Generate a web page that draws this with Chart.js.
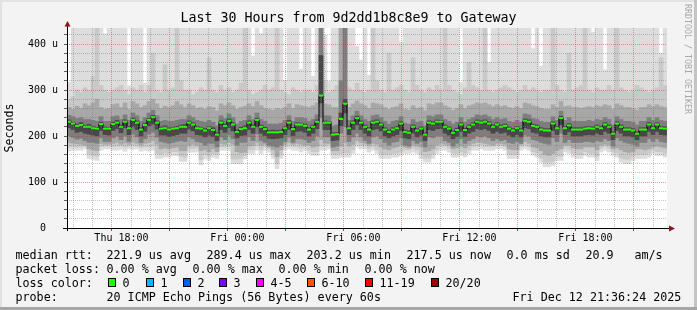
<!DOCTYPE html>
<html>
<head>
<meta charset="utf-8">
<script src="https://cdn.jsdelivr.net/npm/chart.js@4.4.1/dist/chart.umd.min.js"></script>
<style>
  html, body { margin: 0; padding: 0; background: #fff; }
  #frame {
    position: relative; width: 697px; height: 310px; overflow: hidden;
    background: #f3f3f3;
    box-shadow: inset 0 -3px 0 #a6a6a6, inset -3px 0 0 #c4c4c4, inset 2px 2px 0 #e2e2e2;
    font-family: 'DejaVu Sans Mono', monospace;
  }
  #chart { position: absolute; left: 0; top: 0; width: 697px; height: 310px; }
  .txt { position: absolute; font-size: 11.7px; line-height: 14px; white-space: pre; color: #000; }
  .box { position: absolute; width: 6px; height: 7px; border: 1px solid #000; }
  #credit {
    position: absolute; left: 683px; top: 4px; writing-mode: vertical-rl;
    font-size: 8.3px; line-height: 10px; color: #a8a8a8; white-space: pre;
  }
</style>
</head>
<body>
<div id="frame">
  <canvas id="chart" width="697" height="310"></canvas>
  <div id="credit">RRDTOOL / TOBI OETIKER</div>
  <div id="legend"></div>
</div>
<script>
// 150 steps of 12 minutes, Thu 15:42 -> Fri 21:42 (values in microseconds)
const median = [
  231,227,222,224,220,220,217,216,226,216,
  216,226,229,220,231,217,235,229,214,224,
  235,241,229,216,217,214,216,217,220,220,
  229,225,217,216,212,217,213,203,229,222,
  233,225,209,215,217,229,220,235,220,215,
  208,208,208,209,217,229,215,225,225,222,
  214,220,231,288,229,229,203,204,237,270,
  217,229,239,229,220,214,229,231,225,214,
  209,214,217,227,209,207,220,212,216,203,
  229,227,231,231,220,216,207,213,225,213,
  220,225,231,229,231,227,220,225,220,222,
  216,212,217,212,233,231,222,220,214,212,
  212,227,217,239,217,223,214,214,214,216,
  217,216,220,217,225,220,205,227,220,214,
  214,212,205,214,214,225,217,225,217,216
];
// smoke: outer ping (max/min) and inner ping pairs
const maxPing = [
  317,440,440,440,440,440,440,440,440,422,
  440,440,440,440,440,309,440,440,440,315,
  440,440,440,440,440,440,440,440,440,440,
  440,440,440,440,440,440,440,440,440,440,
  440,440,440,440,440,440,374,440,423,440,
  440,440,440,440,321,440,440,440,345,440,
  440,330,440,440,419,319,440,440,440,440,
  440,440,395,365,440,332,440,440,440,440,
  440,440,440,404,440,440,440,440,440,440,
  440,440,440,440,440,440,440,440,316,440,
  440,440,440,440,440,360,440,440,440,440,
  440,440,440,440,440,440,390,440,352,440,
  440,440,440,440,440,440,440,440,440,440,
  440,426,440,440,344,440,440,440,440,440,
  440,440,440,440,440,440,440,440,380,440
];
const hi2 = [
  280,285,300,295,305,300,330,440,310,300,
  295,300,305,310,300,290,305,300,310,295,
  310,380,300,295,355,300,305,440,320,300,
  300,290,295,305,300,370,300,295,310,300,
  305,295,300,315,440,300,290,295,300,310,
  300,305,440,300,295,290,305,300,295,300,
  300,295,310,440,320,295,300,310,440,440,
  305,300,315,300,295,300,440,320,300,295,
  380,300,305,310,300,295,370,310,300,295,
  305,300,310,300,440,310,300,295,290,305,
  360,310,305,300,440,300,295,300,305,310,
  305,300,295,300,310,300,305,300,295,300,
  300,440,310,300,295,380,300,305,310,440,
  300,295,305,300,300,310,300,440,305,300,
  295,300,310,305,300,295,300,305,370,310
];
const hi3 = [
  262,258,265,260,270,266,272,280,262,258,
  260,268,270,262,272,258,275,270,262,266,
  275,280,270,260,265,262,266,275,268,262,
  270,266,260,262,258,264,262,255,270,266,
  272,266,258,262,265,270,264,275,266,260,
  258,256,260,258,262,270,260,268,266,264,
  262,266,272,440,270,268,262,262,440,440,
  262,270,276,270,266,260,272,270,268,262,
  258,262,264,270,258,256,266,260,262,255,
  270,268,272,272,266,262,256,260,268,260,
  266,268,272,270,272,268,264,268,264,266,
  262,260,264,260,272,270,266,264,260,258,
  258,268,262,275,264,266,262,262,260,262,
  264,262,266,264,268,266,258,270,266,262,
  262,260,256,262,262,268,264,268,264,262
];
const hi4 = [
  245,242,238,240,236,236,234,232,242,232,
  232,242,244,236,246,234,250,244,232,240,
  250,256,244,232,234,232,232,234,236,236,
  244,240,234,232,230,234,230,222,244,238,
  248,240,226,232,234,244,236,250,236,232,
  226,226,226,228,234,244,232,240,240,238,
  232,236,246,440,244,244,222,224,320,440,
  234,244,254,244,236,232,244,246,240,232,
  226,232,234,242,228,226,236,230,232,222,
  244,242,246,246,236,232,226,230,240,230,
  236,240,246,244,246,242,236,240,236,238,
  232,230,234,230,248,246,238,236,232,230,
  230,242,234,254,234,240,232,232,232,232,
  234,232,236,234,240,236,224,242,236,232,
  232,230,224,232,232,240,234,240,234,232
];
const hi5 = [
  235,230,226,229,223,225,221,219,230,220,
  219,230,234,224,235,221,239,233,218,228,
  238,245,233,220,222,218,219,221,224,225,
  233,229,221,219,216,221,218,207,233,226,
  237,229,213,219,222,233,224,239,224,219,
  212,213,212,213,221,234,219,229,228,226,
  218,224,235,375,233,232,207,208,250,280,
  221,233,243,233,224,218,233,235,229,218,
  213,218,221,231,213,211,224,216,220,207,
  233,231,235,234,224,220,211,217,229,217,
  224,229,235,233,235,231,224,229,224,226,
  220,216,221,216,237,235,226,224,218,216,
  216,231,221,243,221,227,218,218,218,220,
  221,220,224,221,229,224,209,231,224,218,
  218,216,209,218,218,229,221,229,221,220
];
const lo5 = [
  218,214,208,210,206,204,202,200,212,203,
  202,212,216,207,218,203,220,214,200,210,
  222,226,215,202,202,199,201,203,206,206,
  215,211,203,202,198,202,199,190,214,208,
  218,211,196,201,202,214,206,220,206,201,
  195,194,195,196,203,214,201,210,211,208,
  200,206,216,272,214,214,190,191,222,250,
  203,214,224,214,206,200,214,216,211,200,
  196,200,203,212,196,194,206,198,202,190,
  214,212,216,216,206,202,194,199,210,199,
  206,210,216,214,216,212,206,210,206,208,
  202,198,203,198,218,216,208,206,200,198,
  198,212,203,224,203,209,200,200,200,202,
  203,202,206,203,210,206,192,212,206,200,
  200,198,192,200,200,210,203,210,203,202
];
const lo4 = [
  200,197,193,195,190,186,186,184,196,188,
  188,196,200,192,200,188,204,198,186,194,
  204,208,198,188,186,184,186,188,190,188,
  198,194,188,186,180,184,184,176,198,192,
  202,194,180,186,186,198,190,204,190,186,
  180,178,176,180,188,198,186,194,194,192,
  186,190,200,240,198,198,176,178,206,220,
  188,198,206,198,190,184,198,200,194,186,
  180,186,188,196,180,178,190,184,188,176,
  198,196,200,200,190,186,178,184,194,184,
  190,194,200,198,200,196,190,194,190,192,
  186,184,188,184,202,200,192,190,186,184,
  182,196,188,206,186,192,186,186,186,188,
  188,186,190,188,194,190,178,196,190,186,
  184,182,178,186,186,194,188,194,188,186
];
const lo3 = [
  186,184,183,182,180,172,170,168,184,182,
  182,184,186,182,185,182,186,184,180,184,
  186,190,182,172,174,172,174,176,168,168,
  180,182,180,168,170,166,172,166,184,182,
  186,182,166,164,165,178,180,186,180,182,
  176,170,155,170,182,186,182,184,182,180,
  180,176,178,192,184,184,168,168,178,185,
  178,182,190,186,184,180,184,182,176,172,
  170,174,176,180,176,174,180,178,176,166,
  168,172,180,184,182,180,172,174,178,174,
  180,184,186,186,184,182,180,184,184,182,
  172,170,170,182,188,184,176,174,168,160,
  158,162,168,172,180,180,174,172,172,176,
  176,176,170,180,182,180,172,174,170,166,
  164,166,172,172,170,172,176,178,176,174
];
const lo2 = [
  176,177,176,177,178,160,158,156,177,178,
  178,177,178,178,176,178,179,178,175,177,
  176,178,162,160,164,162,166,166,156,154,
  174,173,174,148,160,156,162,160,177,176,
  177,150,150,152,158,170,170,178,170,177,
  173,160,140,160,177,179,177,177,174,177,
  170,166,166,178,178,180,160,160,162,163,
  163,170,182,179,179,173,177,170,160,160,
  160,162,163,166,170,170,173,170,160,152,
  152,160,170,177,178,173,163,162,166,163,
  170,177,178,180,177,177,178,180,179,177,
  160,160,160,177,180,177,166,163,152,143,
  143,145,156,156,173,170,163,160,160,166,
  163,162,156,173,177,173,166,163,152,150,
  150,156,160,160,160,163,170,166,166,163
];
const minPing = [
  167,169,169,169,172,151,149,147,169,172,
  172,169,169,171,167,172,171,172,167,169,
  167,169,151,151,154,154,158,158,145,145,
  165,165,165,137,150,147,154,151,169,169,
  169,140,140,140,150,162,162,169,162,169,
  165,151,129,151,169,172,169,169,165,169,
  162,158,158,169,169,172,151,151,154,154,
  154,162,176,172,172,165,169,162,151,151,
  151,154,154,158,162,162,165,162,151,143,
  143,151,162,169,169,165,154,154,158,154,
  162,169,169,172,169,169,169,172,172,169,
  151,151,151,169,172,169,158,154,143,133,
  133,136,147,147,165,162,154,151,151,158,
  154,154,147,165,169,165,158,154,143,140,
  140,147,151,151,151,154,162,158,158,154
];

// time axis, in hours since Thu 00:00
const startHour = 15.7;
const gridHours = [16,17,18,19,20,21,22,23,24,25,26,27,28,29,30,31,32,33,34,35,36,37,38,39,40,41,42,43,44,45];
const tickHours = [18, 24, 30, 36, 42];
const tickLabels = ['Thu 18:00', 'Fri 00:00', 'Fri 06:00', 'Fri 12:00', 'Fri 18:00'];

const yGrid = [0,20,40,60,80,100,120,140,160,180,200,220,240,260,280,300,320,340,360,380,400,420];
const yTickValues = [0, 100, 200, 300, 400];
const yTickLabels = ['0  ', '100 u', '200 u', '300 u', '400 u'];

const lossLabels = ['0', '1', '2', '3', '4-5', '6-10', '11-19', '20/20'];
const lossColors = ['#26ff00', '#00b8ff', '#0059ff', '#7e00ff', '#ff00ff', '#ff5500', '#ff0000', '#a10000'];

// smoke shades, outermost first
const bandColors = ['#dddddd', '#c9c9c9', '#a8a8a8', '#7e7e7e', '#484848'];
const gridGrey = 'rgba(120,120,120,0.45)';
const gridRed = 'rgba(210,40,40,0.45)';
const mono = "'DejaVu Sans Mono', monospace";

const bands = [[minPing, maxPing], [lo2, hi2], [lo3, hi3], [lo4, hi4], [lo5, hi5]];
const bandSets = bands.map(([lo, hi], k) => ({
  type: 'bar',
  data: lo.map((v, i) => [v, hi[i]]),
  backgroundColor: bandColors[k],
  borderWidth: 0,
  barPercentage: 1,
  categoryPercentage: 1,
  grouped: false,
  order: 10 - k
}));

const plotFrame = {
  id: 'plotFrame',
  beforeDraw(chart) {
    const { ctx, chartArea: a } = chart;
    ctx.save();
    ctx.fillStyle = '#fff';
    ctx.fillRect(a.left, a.top, a.right - a.left, a.bottom - a.top);
    ctx.restore();
  },
  afterDraw(chart) {
    const { ctx, chartArea: a } = chart;
    ctx.save();
    ctx.strokeStyle = '#000';
    ctx.lineWidth = 1;
    ctx.beginPath();
    ctx.moveTo(a.left - 4, a.bottom + 0.5);
    ctx.lineTo(a.right + 3, a.bottom + 0.5);
    ctx.moveTo(a.left + 0.5, a.bottom + 3);
    ctx.lineTo(a.left + 0.5, a.top - 3);
    ctx.stroke();
    ctx.fillStyle = '#8c1515';
    ctx.beginPath();
    ctx.moveTo(a.right + 8, a.bottom + 0.5);
    ctx.lineTo(a.right + 2, a.bottom - 2.5);
    ctx.lineTo(a.right + 2, a.bottom + 3.5);
    ctx.fill();
    ctx.beginPath();
    ctx.moveTo(a.left + 0.5, a.top - 7);
    ctx.lineTo(a.left - 2.5, a.top - 1.5);
    ctx.lineTo(a.left + 3.5, a.top - 1.5);
    ctx.fill();
    ctx.restore();
  }
};

Chart.defaults.color = '#000';
Chart.defaults.font.family = mono;

new Chart(document.getElementById('chart'), {
  type: 'bar',
  data: {
    labels: median.map((v, i) => i),
    datasets: [{
      type: 'line',
      data: median,
      borderColor: '#000',
      borderWidth: 1,
      stepped: 'middle',
      pointStyle: 'line',
      pointRadius: 2,
      pointHoverRadius: 2,
      pointBorderWidth: 2,
      pointBorderColor: '#26ff00',
      order: 0
    }, ...bandSets]
  },
  options: {
    responsive: false,
    devicePixelRatio: 1,
    animation: false,
    events: [],
    layout: { padding: 0 },
    plugins: {
      legend: { display: false },
      tooltip: { enabled: false },
      title: {
        display: true,
        text: 'Last 30 Hours from 9d2dd1b8c8e9 to Gateway',
        color: '#000',
        font: { family: mono, size: 13.3, weight: 'normal', lineHeight: 1 },
        padding: { top: 11.5, bottom: 3.2 }
      }
    },
    scales: {
      x: { type: 'category', display: false, offset: true },
      xt: {
        type: 'linear', position: 'bottom', min: startHour, max: startHour + 30,
        afterBuildTicks: s => { s.ticks = gridHours.map(v => ({ value: v })); },
        afterFit: s => { s.height = 82; },
        ticks: {
          autoSkip: false, maxRotation: 0, padding: 1,
          font: { family: mono, size: 10 },
          callback: v => { const k = tickHours.indexOf(v); return k < 0 ? '' : tickLabels[k]; }
        },
        grid: {
          z: 1, lineWidth: 1, tickLength: 3,
          color: c => (c.tick && c.tick.value % 3 === 0) ? gridRed : gridGrey,
          tickColor: c => (c.tick && c.tick.value % 3 === 0) ? '#b04040' : 'rgba(0,0,0,0)'
        },
        border: { display: false, dash: [1, 1] }
      },
      y: {
        type: 'linear', position: 'left', min: 0, max: 434.8,
        afterBuildTicks: s => { s.ticks = yGrid.map(v => ({ value: v })); },
        afterFit: s => { s.width = 67; },
        ticks: {
          autoSkip: false, padding: 6,
          font: { family: mono, size: 10 },
          callback: v => { const k = yTickValues.indexOf(v); return k < 0 ? '' : yTickLabels[k]; }
        },
        grid: {
          z: 1, lineWidth: 1, tickLength: 3,
          color: c => (c.tick && c.tick.value % 100 === 0) ? gridRed : gridGrey,
          tickColor: '#606060'
        },
        border: { display: false, dash: [1, 1] },
        title: {
          display: true, text: 'Seconds', color: '#000',
          font: { family: mono, size: 11.6 }, padding: { top: 3, bottom: 0 }
        }
      },
      yr: {
        type: 'linear', position: 'right', display: true,
        afterFit: s => { s.width = 30; },
        ticks: { display: false },
        grid: { display: false },
        border: { display: false }
      }
    }
  },
  plugins: [plotFrame]
});

// rrd-style legend below the plot
const legend = document.getElementById('legend');
function put(x, y, text) {
  const d = document.createElement('div');
  d.className = 'txt';
  d.style.left = x + 'px';
  d.style.top = y + 'px';
  d.textContent = text;
  legend.appendChild(d);
}
[[16, 'median rtt:'], [107, '221.9 us avg'], [207, '289.4 us max'], [307, '203.2 us min'],
 [407, '217.5 us now'], [507, '0.0 ms sd'], [586, '20.9'], [635, 'am/s']]
  .forEach(([x, t]) => put(x - 0.5, 247.5, t));
[[16, 'packet loss:'], [107, '0.00 % avg'], [193, '0.00 % max'], [279, '0.00 % min'], [365, '0.00 % now']]
  .forEach(([x, t]) => put(x - 0.5, 261.5, t));
put(15.5, 275.5, 'loss color:');
const boxX = [108, 146, 183, 219, 256, 307, 365, 431];
lossLabels.forEach((t, i) => {
  const b = document.createElement('div');
  b.className = 'box';
  b.style.left = boxX[i] + 'px';
  b.style.top = '278px';
  b.style.background = lossColors[i];
  legend.appendChild(b);
  put(boxX[i] + 14.5, 275.5, t);
});
[[16, 'probe:'], [107, '20 ICMP Echo Pings (56 Bytes) every 60s'], [513, 'Fri Dec 12 21:36:24 2025']]
  .forEach(([x, t]) => put(x - 0.5, 289.5, t));
</script>
</body>
</html>
